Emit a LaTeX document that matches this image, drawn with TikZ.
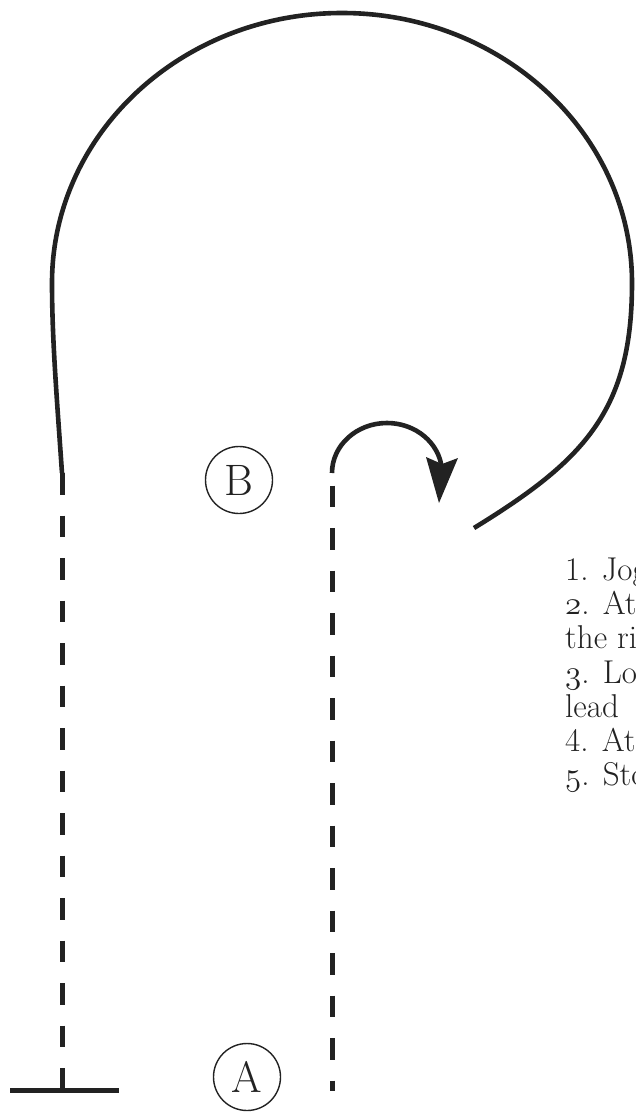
\RequirePackage{fix-cm}
\documentclass[tikz,border=0pt]{standalone}
\usepackage{fontspec}
\definecolor{ink}{HTML}{222222}
\newcommand{\osfig}[1]{{\fontencoding{OML}\fontfamily{cmm}\fontseries{m}\fontshape{it}\selectfont #1}}
\begin{document}
\begin{tikzpicture}[x=1pt,y=-1pt,
  track/.style={draw=ink,line width=4.6pt},
  dashtrack/.style={draw=ink,line width=5pt,dash pattern=on 21.5pt off 21pt},
  marker/.style={circle,draw=ink,line width=1.4pt,minimum size=67pt,inner sep=0pt,font=\fontsize{44}{44}\selectfont,text=ink},
  stepline/.style={anchor=base west,inner sep=0pt,font=\fontsize{33}{34}\selectfont,text=ink}]
\useasboundingbox (0,0) rectangle (635,1113);
% big loop
\coordinate (L0) at (62,473);
\coordinate (L1) at (474,528);
\draw[track] (L0) .. controls (57,400) and (52,340) .. (52,283)
  arc[start angle=180,end angle=360,x radius=290,y radius=270]
  .. controls (632,410) and (585,460) .. (L1);
% left dashed
\coordinate (LB) at (62,1090);
\draw[dashtrack] (L0) -- (LB);
\coordinate (T1) at (10,1090);
\coordinate (T2) at (119,1090);
\draw[ink,line width=5pt] (T1) -- (T2);
% right dashed
\coordinate (R0) at (332,473);
\coordinate (R1) at (332,1091);
\draw[dashtrack,dash phase=30pt] (R0) -- (R1);
% small turn arrow
\draw[track] (R0) arc[start angle=180,end angle=355,x radius=55,y radius=50];
\fill[ink] (426,457) -- (442,464) -- (458,458) -- (439,503) -- cycle;
% markers
\node[marker] (B) at (239,480) {B};
\node[marker] (A) at (247,1077) {A};
% text
\begin{scope}
\clip (0,0) rectangle (635,1113);
\node[stepline] (s1) at (565,580) {1. Jog};
\node[stepline] (s2) at (565,614) {\osfig{2}. At};
\node[stepline] (s3) at (565,648) {the ri};
\node[stepline] (s4) at (565,683) {\osfig{3}. Lo};
\node[stepline] (s5) at (565,717) {lead};
\node[stepline] (s6) at (565,751) {4. At};
\node[stepline] (s7) at (565,785) {\osfig{5}. Sto};
\end{scope}
\end{tikzpicture}
\end{document}
